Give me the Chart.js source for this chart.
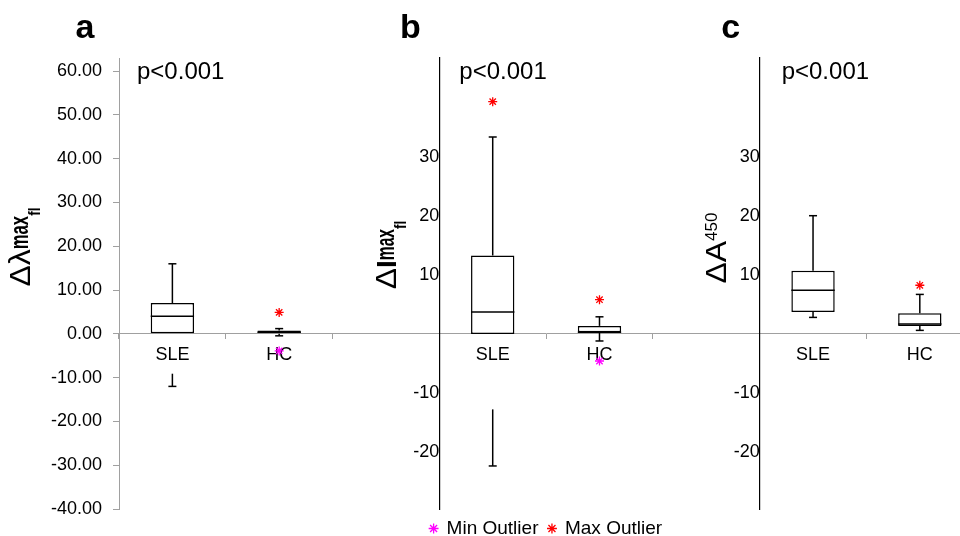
<!DOCTYPE html>
<html>
<head>
<meta charset="utf-8">
<script src="https://cdn.jsdelivr.net/npm/chart.js"></script>
<title>SLE vs HC</title>
<style>
  html, body { margin: 0; padding: 0; background: #fff; overflow: hidden; }
  #wrap { width: 979px; height: 536px; }
</style>
</head>
<body>
<div id="wrap">
  <canvas id="myChart"></canvas>
</div>

<script>
// groups in every panel, and the shared x axis (3 panels, empty slot between them)
const groups = ['SLE', 'HC'];
const xLabels = ['SLE', 'HC', '', 'SLE', 'HC', '', 'SLE', 'HC'];

// panel a : delta lambda max fl
const lambdaBoxLow = [0, 0];
const lambdaBoxHigh = [7.05, 0.75];
const lambdaMedian = [4.0, 0.35];
const lambdaWhiskerHigh = [16.0, 1.2];
const lambdaLowerFrom = [-9.1, 0];
const lambdaWhiskerLow = [-12.0, -0.45];
const lambdaMinOutlier = [null, -3.9];
const lambdaMaxOutlier = [null, 4.9];
const lambdaTicks = [-40, -30, -20, -10, 0, 10, 20, 30, 40, 50, 60];

// panel b : delta I max fl
const intensityBoxLow = [0, 0.28];
const intensityBoxHigh = [13.3, 1.36];
const intensityMedian = [3.7, 0.3];
const intensityWhiskerHigh = [33.4, 2.9];
const intensityLowerFrom = [-12.8, 0.28];
const intensityWhiskerLow = [-22.4, -1.2];
const intensityMinOutlier = [null, -4.6];
const intensityMaxOutlier = [39.4, 5.8];
const intensityTicks = [-20, -10, 10, 20, 30];

// panel c : delta A 450
const absBoxLow = [3.7, 1.36];
const absBoxHigh = [10.7, 3.5];
const absMedian = [7.4, 1.7];
const absWhiskerHigh = [20.05, 6.7];
const absLowerFrom = [3.7, 1.36];
const absWhiskerLow = [2.8, 0.6];
const absMinOutlier = [null, null];
const absMaxOutlier = [null, 8.25];
const absTicks = [-20, -10, 10, 20, 30];

const pValues = ['p<0.001', 'p<0.001', 'p<0.001'];

const FONT = "'Liberation Sans', Arial, sans-serif";
Chart.defaults.font.family = FONT;
Chart.defaults.color = '#000';

const panels = [
  { axis: 'ya', slot: 0, letter: 'a', letterDx: -34, pDx: 18, titleDx: -89, titleY: 247,
    boxLow: lambdaBoxLow, boxHigh: lambdaBoxHigh, median: lambdaMedian,
    whiskerHigh: lambdaWhiskerHigh, lowerFrom: lambdaLowerFrom, whiskerLow: lambdaWhiskerLow,
    minOut: lambdaMinOutlier, maxOut: lambdaMaxOutlier,
    title: [['Δλ', '29px', 0, 1.1], ['max', 'bold 26px', -2, 0.64], ['fl', 'bold 17px', 10, 0.8]] },
  { axis: 'yb', slot: 3, letter: 'b', letterDx: -29, pDx: 20, titleDx: -43, titleY: 255,
    boxLow: intensityBoxLow, boxHigh: intensityBoxHigh, median: intensityMedian,
    whiskerHigh: intensityWhiskerHigh, lowerFrom: intensityLowerFrom, whiskerLow: intensityWhiskerLow,
    minOut: intensityMinOutlier, maxOut: intensityMaxOutlier,
    title: [['Δ', '29px', 0, 1.1], ['I', 'bold 28px', 0, 1], ['max', 'bold 26px', -2, 0.6], ['fl', 'bold 17px', 10, 0.8]] },
  { axis: 'yc', slot: 6, letter: 'c', letterDx: -29, pDx: 22, titleDx: -34, titleY: 248,
    boxLow: absBoxLow, boxHigh: absBoxHigh, median: absMedian,
    whiskerHigh: absWhiskerHigh, lowerFrom: absLowerFrom, whiskerLow: absWhiskerLow,
    minOut: absMinOutlier, maxOut: absMaxOutlier,
    title: [['ΔA', '29px', 0, 1.1], ['450', '17px', -9, 1]] }
];

// put a panel's two values into its slots of the shared x axis
function slots(values, start) {
  const out = xLabels.map(() => null);
  values.forEach((v, i) => { out[start + i] = v; });
  return out;
}

const datasets = [];
panels.forEach(p => {
  datasets.push({
    type: 'bar',
    label: 'box ' + p.letter,
    yAxisID: p.axis,
    data: slots(p.boxLow.map((v, i) => [v, p.boxHigh[i]]), p.slot),
    backgroundColor: '#fff',
    borderColor: '#000',
    borderWidth: 1.5,
    borderSkipped: false,
    grouped: false,
    barPercentage: 0.406,
    categoryPercentage: 1
  });
});
panels.forEach(p => {
  datasets.push({
    type: 'line', label: 'Min Outlier', yAxisID: p.axis,
    data: slots(p.minOut, p.slot), showLine: false,
    pointStyle: 'star', pointRadius: 4.5, borderColor: '#ff00ff', backgroundColor: '#ff00ff', borderWidth: 1.3
  });
  datasets.push({
    type: 'line', label: 'Max Outlier', yAxisID: p.axis,
    data: slots(p.maxOut, p.slot), showLine: false,
    pointStyle: 'star', pointRadius: 4.5, borderColor: '#ff0000', backgroundColor: '#ff0000', borderWidth: 1.3
  });
});

// whiskers, caps and medians, placed from the box bars and the panel's y scale
const boxPlotLines = {
  id: 'boxPlotLines',
  afterDatasetsDraw(chart) {
    const ctx = chart.ctx;
    ctx.save();
    ctx.strokeStyle = '#000';
    ctx.lineWidth = 1.5;
    const line = (x1, y1, x2, y2) => { ctx.beginPath(); ctx.moveTo(x1, y1); ctx.lineTo(x2, y2); ctx.stroke(); };
    panels.forEach((p, k) => {
      const ys = chart.scales[p.axis];
      const meta = chart.getDatasetMeta(k);
      const y = v => ys.getPixelForValue(v);
      groups.forEach((g, i) => {
        const bar = meta.data[p.slot + i];
        const x = bar.x, half = bar.width / 2, cap = 4;
        line(x - half, y(p.median[i]), x + half, y(p.median[i]));
        line(x, y(p.boxHigh[i]), x, y(p.whiskerHigh[i]));
        line(x - cap, y(p.whiskerHigh[i]), x + cap, y(p.whiskerHigh[i]));
        line(x, y(p.lowerFrom[i]), x, y(p.whiskerLow[i]));
        line(x - cap, y(p.whiskerLow[i]), x + cap, y(p.whiskerLow[i]));
      });
    });
    ctx.restore();
  }
};

// panel letters, p values and the rotated axis titles
const panelText = {
  id: 'panelText',
  afterDraw(chart) {
    const ctx = chart.ctx;
    const xs = chart.scales.x;
    ctx.save();
    ctx.fillStyle = '#000';
    ctx.textBaseline = 'alphabetic';
    panels.forEach((p, k) => {
      const ax = xs.getPixelForValue(p.slot - 0.5);
      ctx.textAlign = 'center';
      ctx.font = 'bold 34px ' + FONT;
      ctx.fillText(p.letter, ax + p.letterDx, 38);
      ctx.textAlign = 'left';
      ctx.font = '24px ' + FONT;
      ctx.fillText(pValues[k], ax + p.pDx, 79);

      ctx.save();
      ctx.translate(ax + p.titleDx, p.titleY);
      ctx.rotate(-Math.PI / 2);
      let total = 0;
      p.title.forEach(t => { ctx.font = t[1] + ' ' + FONT; total += ctx.measureText(t[0]).width * t[3]; });
      let tx = -total / 2;
      p.title.forEach(t => {
        ctx.font = t[1] + ' ' + FONT;
        const w = ctx.measureText(t[0]).width * t[3];
        ctx.save();
        ctx.translate(tx, t[2]);
        ctx.scale(t[3], 1);
        ctx.fillText(t[0], 0, 0);
        ctx.restore();
        tx += w;
      });
      ctx.restore();
    });
    ctx.restore();
  }
};

const ctx = document.getElementById('myChart');
const chart = new Chart(ctx, {
  type: 'bar',
  data: { labels: xLabels, datasets: datasets },
  plugins: [boxPlotLines, panelText],
  options: {
    responsive: true,
    maintainAspectRatio: false,
    animation: false,
    events: [],
    layout: { padding: { top: 58, left: 0, right: 2, bottom: 0 } },
    scales: {
      x: {
        type: 'category',
        offset: true,
        position: { ya: 0 },
        grid: { display: true, drawOnChartArea: false, drawTicks: true, tickLength: 5, offset: true, color: '#a0a0a0' },
        border: { color: '#a0a0a0', width: 1 },
        ticks: { autoSkip: false, maxRotation: 0, padding: 5, font: { size: 18 }, color: '#000' }
      },
      ya: {
        type: 'linear',
        position: 'left',
        min: -40,
        max: 63,
        afterBuildTicks: s => { s.ticks = lambdaTicks.map(v => ({ value: v })); },
        afterFit: s => { s.width = 119; },
        grid: { drawOnChartArea: false, tickLength: 6, color: '#a0a0a0' },
        border: { color: '#a0a0a0', width: 1 },
        ticks: { padding: 11, font: { size: 18 }, color: '#000', callback: v => v.toFixed(2) }
      },
      yb: {
        type: 'linear',
        position: { x: 2.5 },
        min: -29.7,
        max: 46.8,
        afterBuildTicks: s => { s.ticks = intensityTicks.map(v => ({ value: v })); },
        grid: { display: true, drawOnChartArea: false, drawTicks: false },
        border: { color: '#000', width: 1.2 },
        ticks: { padding: 5, font: { size: 18 }, color: '#000', callback: v => String(v) }
      },
      yc: {
        type: 'linear',
        position: { x: 5.5 },
        min: -29.7,
        max: 46.8,
        afterBuildTicks: s => { s.ticks = absTicks.map(v => ({ value: v })); },
        grid: { display: true, drawOnChartArea: false, drawTicks: false },
        border: { color: '#000', width: 1.2 },
        ticks: { padding: 5, font: { size: 18 }, color: '#000', callback: v => String(v) }
      }
    },
    plugins: {
      tooltip: { enabled: false },
      title: { display: false },
      legend: {
        display: true,
        position: 'bottom',
        fullSize: false,
        maxHeight: 27,
        labels: {
          usePointStyle: true,
          boxWidth: 7,
          boxHeight: 7,
          padding: 10,
          color: '#000',
          font: { size: 19 },
          filter: (item, data) => item.text.indexOf('Outlier') >= 0 &&
            data.datasets.findIndex(d => d.label === item.text) === item.datasetIndex
        }
      }
    }
  }
});
</script>
</body>
</html>
